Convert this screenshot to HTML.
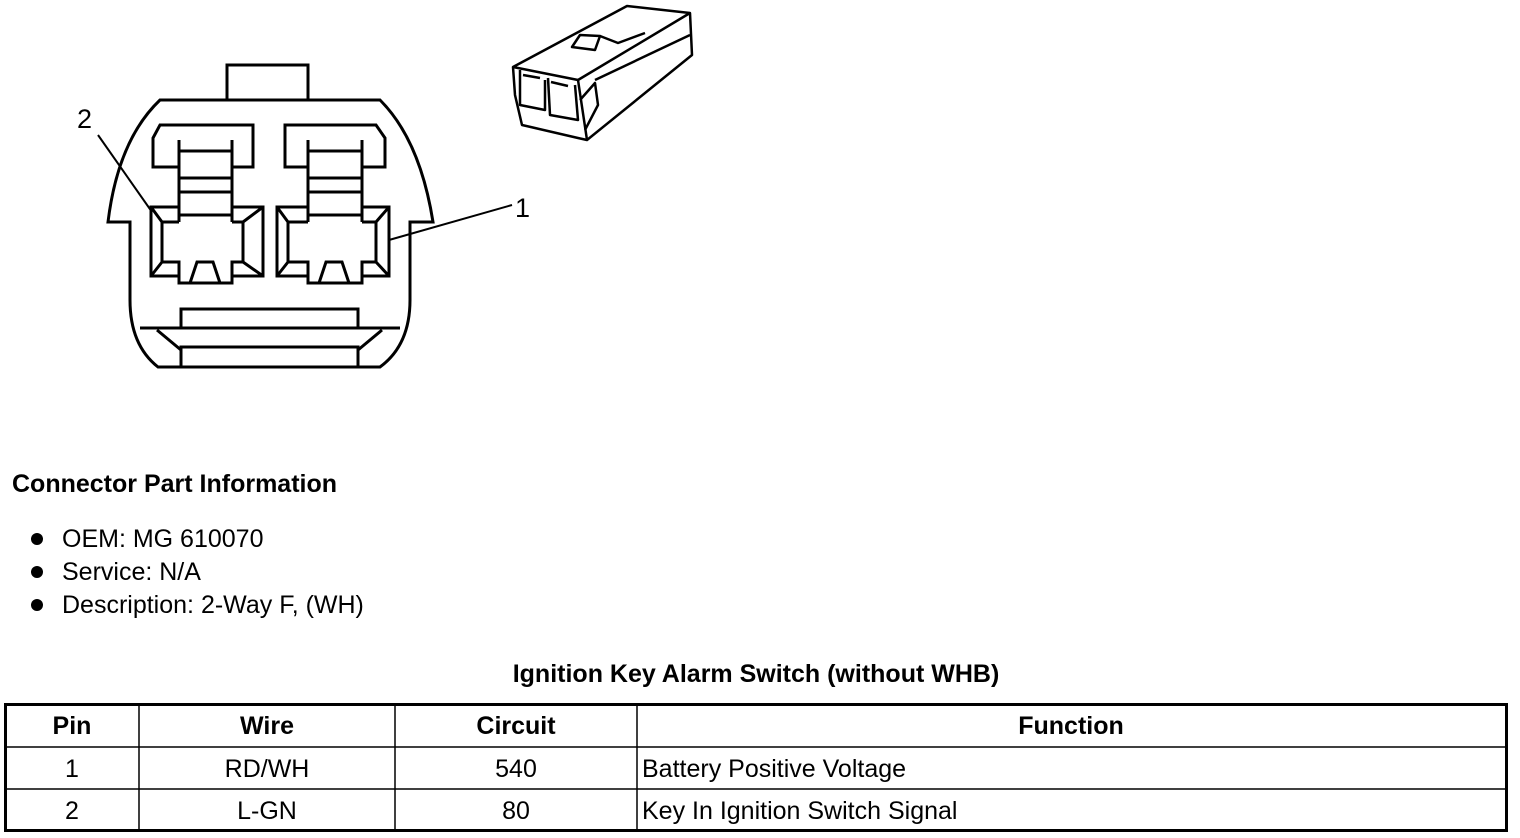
<!DOCTYPE html>
<html><head><meta charset="utf-8"><style>
html,body{margin:0;padding:0;background:#fff;}
svg{display:block;}
text{font-family:"Liberation Sans",Arial,sans-serif;fill:#000;}
</style></head><body>
<svg width="1520" height="838" viewBox="0 0 1520 838" xmlns="http://www.w3.org/2000/svg">
<g fill="none" stroke="#000" stroke-width="3" stroke-linejoin="miter">
<!-- tab -->
<path d="M227,100 V65 H308 V100"/>
<!-- outer body -->
<path d="M160,100 H380 Q420,140 433,222 H410 V300 Q410,345 380,367 H158 Q130,345 130,300 V222 H108 Q118,140 160,100 Z"/>
<!-- bottom band -->
<path d="M140,328 H400"/>
<path d="M181,328 V309 H358 V328"/>
<path d="M181,367 V347 H358 V367"/>
<path d="M157,330 L181,350 M382,330 L358,350"/>
<!-- left cavity cap -->
<path d="M232,167 H253 V125 H160 L153,138 V167 H179"/>
<!-- left ladder -->
<path d="M179,140 V222 M232,140 V222 M179,151 H232 M179,178 H232 M179,192 H232 M179,215 H232"/>
<!-- left lower cavity -->
<path d="M179,207 H151 V276 H179 M232,276 H263 V207 H232"/>
<path d="M179,222 H162 V262 H179 V283 H232 V262 H243 V222 H232"/>
<path d="M151,207 L162,222 M263,207 L243,222 M151,276 L162,262 M263,276 L243,262"/>
<path d="M190,283 L197,262 H213 L220,283"/>
<!-- right cavity cap -->
<path d="M308,167 H285 V125 H376 L385,138 V167 H362"/>
<!-- right ladder -->
<path d="M308,140 V222 M362,140 V222 M308,151 H362 M308,178 H362 M308,192 H362 M308,215 H362"/>
<!-- right lower cavity -->
<path d="M308,207 H277 V276 H308 M362,276 H389 V207 H362"/>
<path d="M308,222 H288 V262 H308 V283 H362 V262 H376 V222 H362"/>
<path d="M277,207 L288,222 M389,207 L376,222 M277,276 L288,262 M389,276 L376,262"/>
<path d="M319,283 L326,262 H342 L349,283"/>
</g>
<!-- leaders -->
<g stroke="#000" stroke-width="2">
<line x1="98" y1="135" x2="152" y2="212"/>
<line x1="389" y1="240" x2="512" y2="205"/>
</g>
<text x="77" y="128" font-size="27">2</text>
<text x="515" y="217" font-size="27">1</text>
<!-- perspective connector -->
<g fill="none" stroke="#000" stroke-width="2.5" stroke-linejoin="round">
<path d="M513,67 L627,6 L690,13 L692,55 L587,140 L578,138 L535,128 L522,125 L515,95 Z"/>
<path d="M513,67 L578,80 L690,13"/>
<path d="M578,80 L587,140"/>
<path d="M572,47 L580,35 L600,36 L595,50 Z"/>
<path d="M600,36 L618,43 L645,33"/>
<path d="M520,70 L520,105 L545,110 L545,80 M548,78 L550,115 L578,120 L575,85"/>
<path d="M523,75 L540,78 M551,82 L568,86"/>
<path d="M580,100 L595,83 L598,105 L585,130"/>
<path d="M595,80 L690,35"/>
</g>
<!-- text -->
<text x="12" y="492" font-size="25" font-weight="bold">Connector Part Information</text>
<g font-size="25">
<circle cx="37" cy="539" r="6"/><text x="62" y="547">OEM: MG 610070</text>
<circle cx="37" cy="572" r="6"/><text x="62" y="580">Service: N/A</text>
<circle cx="37" cy="605" r="6"/><text x="62" y="613">Description: 2-Way F, (WH)</text>
</g>
<text x="756" y="682" font-size="25" font-weight="bold" text-anchor="middle">Ignition Key Alarm Switch (without WHB)</text>
<!-- table -->
<rect x="5.5" y="704.5" width="1501" height="126" fill="none" stroke="#000" stroke-width="3"/>
<g stroke="#000" stroke-width="1.5">
<line x1="5" y1="747" x2="1507" y2="747"/>
<line x1="5" y1="789" x2="1507" y2="789"/>
<line x1="139" y1="704" x2="139" y2="831"/>
<line x1="395" y1="704" x2="395" y2="831"/>
<line x1="637" y1="704" x2="637" y2="831"/>
</g>
<g font-size="25" font-weight="bold" text-anchor="middle">
<text x="72" y="734">Pin</text>
<text x="267" y="734">Wire</text>
<text x="516" y="734">Circuit</text>
<text x="1071" y="734">Function</text>
</g>
<g font-size="25" text-anchor="middle">
<text x="72" y="777">1</text><text x="267" y="777">RD/WH</text><text x="516" y="777">540</text>
<text x="72" y="819">2</text><text x="267" y="819">L-GN</text><text x="516" y="819">80</text>
</g>
<g font-size="25">
<text x="642" y="777">Battery Positive Voltage</text>
<text x="642" y="819">Key In Ignition Switch Signal</text>
</g>
</svg>
</body></html>
